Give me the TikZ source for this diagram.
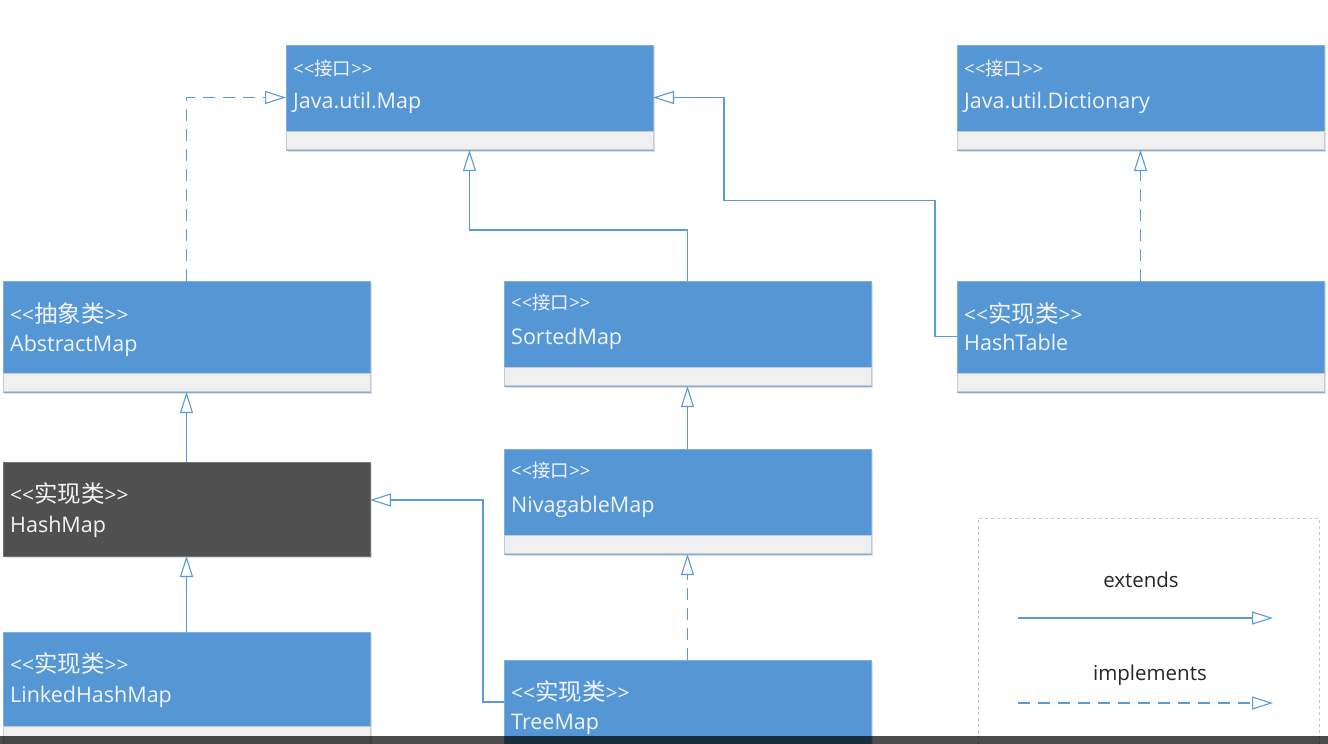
\documentclass[tikz,border=0pt]{standalone}
\usepackage{fontspec}
\setmainfont{Open Sans}
\newfontfamily\cjk{Noto Sans CJK SC}
\usetikzlibrary{arrows.meta,calc}
\definecolor{umlblue}{HTML}{5597D5}
\definecolor{boxline}{HTML}{7FAEDD}
\definecolor{lineblue}{HTML}{5B9BD5}
\definecolor{compfill}{HTML}{F0F0F0}
\definecolor{compline}{HTML}{C3CCD6}
\definecolor{darkbox}{HTML}{505050}
\definecolor{txt}{HTML}{F2F4F7}
\definecolor{legline}{HTML}{C8C8C8}
\newcommand{\smallst}[1]{{\fontsize{18.5pt}{21pt}\selectfont <{}<{\cjk #1}>{}>}}
\newcommand{\bigst}[1]{{\fontsize{21pt}{24pt}\selectfont <{}<{\cjk\fontsize{23.5pt}{27pt}\selectfont #1}>{}>}}
\tikzset{
  umlbox/.style={draw=boxline, line width=0.8pt, fill=umlblue, minimum width=367pt, minimum height=#1, anchor=north west, inner sep=0pt, outer sep=0pt},
  darkstyle/.style={draw=darkbox!80!white, line width=0.8pt, fill=darkbox, minimum width=367pt, minimum height=#1, anchor=north west, inner sep=0pt, outer sep=0pt},
  compbox/.style={draw=compline, line width=0.8pt, fill=compfill, minimum width=367pt, minimum height=18pt, anchor=south, inner sep=0pt},
  shadowbox/.style={fill=black!12},
  stereo/.style={text=txt, anchor=west, inner sep=0pt},
  cname/.style={text=txt, anchor=base west, inner sep=0pt, font=\fontsize{21.5pt}{25pt}\selectfont},
  legtext/.style={text=black!85, anchor=center, inner sep=0pt, font=\fontsize{20.5pt}{24pt}\selectfont},
  ext/.style={draw=lineblue, line width=1.1pt, -{Triangle[open, length=21pt, width=13pt, fill=white]}},
  impl/.style={ext, dash pattern=on 12pt off 8pt},
}
\begin{document}
\begin{tikzpicture}[x=1pt,y=-1pt]
\useasboundingbox (0,0) rectangle (1328,744);
\clip (0,0) rectangle (1328,744);
\fill[white] (0,0) rectangle (1328,744);

% shadows
\foreach \xx/\yy/\hh in {286/45/105, 957/45/105, 3/281/111, 504/281/105, 957/281/111, 3/462/94, 504/449/105, 3/632/120, 504/660/120}
  \fill[shadowbox] (\xx+2,\yy+2) rectangle (\xx+369,\yy+\hh+2);

% boxes
\node[umlbox=105pt] (map) at (286,45) {};
\node[compbox] (mapc) at (map.south) {};
\node[stereo] (maps) at (293,68) {\smallst{接口}};
\node[cname] (mapn) at (293,108) {Java.util.Map};

\node[umlbox=105pt] (dict) at (957,45) {};
\node[compbox] (dictc) at (dict.south) {};
\node[stereo] (dicts) at (964,68) {\smallst{接口}};
\node[cname] (dictn) at (964,108) {Java.util.Dictionary};

\node[umlbox=111pt] (abs) at (3,281) {};
\node[compbox] (absc) at (abs.south) {};
\node[stereo] (abss) at (10,314) {\bigst{抽象类}};
\node[cname] (absn) at (10,351) {AbstractMap};

\node[umlbox=105pt] (sorted) at (504,281) {};
\node[compbox] (sortedc) at (sorted.south) {};
\node[stereo] (sorteds) at (511,302) {\smallst{接口}};
\node[cname] (sortedn) at (511,344) {SortedMap};

\node[umlbox=111pt] (htable) at (957,281) {};
\node[compbox] (htablec) at (htable.south) {};
\node[stereo] (htables) at (964,314) {\bigst{实现类}};
\node[cname] (htablen) at (964,350) {HashTable};

\node[darkstyle=94pt] (hmap) at (3,462) {};
\node[stereo] (hmaps) at (10,494) {\bigst{实现类}};
\node[cname] (hmapn) at (10,532) {HashMap};

\node[umlbox=105pt] (nav) at (504,449) {};
\node[compbox] (navc) at (nav.south) {};
\node[stereo] (navs) at (511,470) {\smallst{接口}};
\node[cname] (navn) at (511,512) {NivagableMap};

\node[umlbox=113pt] (lhm) at (3,632) {};
\node[compbox] (lhmc) at (lhm.south) {};
\node[stereo] (lhms) at (10,664) {\bigst{实现类}};
\node[cname] (lhmn) at (10,702) {LinkedHashMap};

\node[umlbox=105pt] (tree) at (504,660) {};
\node[stereo] (trees) at (511,692) {\bigst{实现类}};
\node[cname] (treen) at (511,729) {TreeMap};

% connectors
\draw[impl] (abs.north) |- (map.west);
\draw[ext] (sorted.north) -- ++(0,-51) -| (mapc.south);
\draw[ext] (htable.west) -- ++(-22,0) -- ++(0,-136) -| ($(map.east)+(71,0)$) -- (map.east);
\draw[impl] (htable.north) -- (dictc.south);
\draw[ext] (hmap.north) -- (absc.south);
\draw[ext] (nav.north) -- (sortedc.south);
\draw[ext] (lhm.north) -- (hmap.south);
\draw[impl] (tree.north) -- (navc.south);
\draw[ext] ($(tree.north west)+(0,42)$) -- ++(-21,0) |- ($(hmap.north east)+(0,38)$);

% legend
\node[draw=legline, dashed, line width=0.8pt, minimum width=341pt, minimum height=240pt, anchor=north west, inner sep=0pt] (legend) at (978,518) {};
\node[legtext] (lext) at (1141,580) {extends};
\coordinate (e1) at (1018,618);
\coordinate (e2) at (1273,618);
\draw[ext] (e1) -- (e2);
\node[legtext] (limp) at (1150,675) {implements};
\coordinate (i1) at (1018,703);
\coordinate (i2) at (1273,703);
\draw[impl] (i1) -- (i2);

% bottom bar
\fill[black, opacity=0.7] (0,736) rectangle (1328,744);
\end{tikzpicture}
\end{document}
